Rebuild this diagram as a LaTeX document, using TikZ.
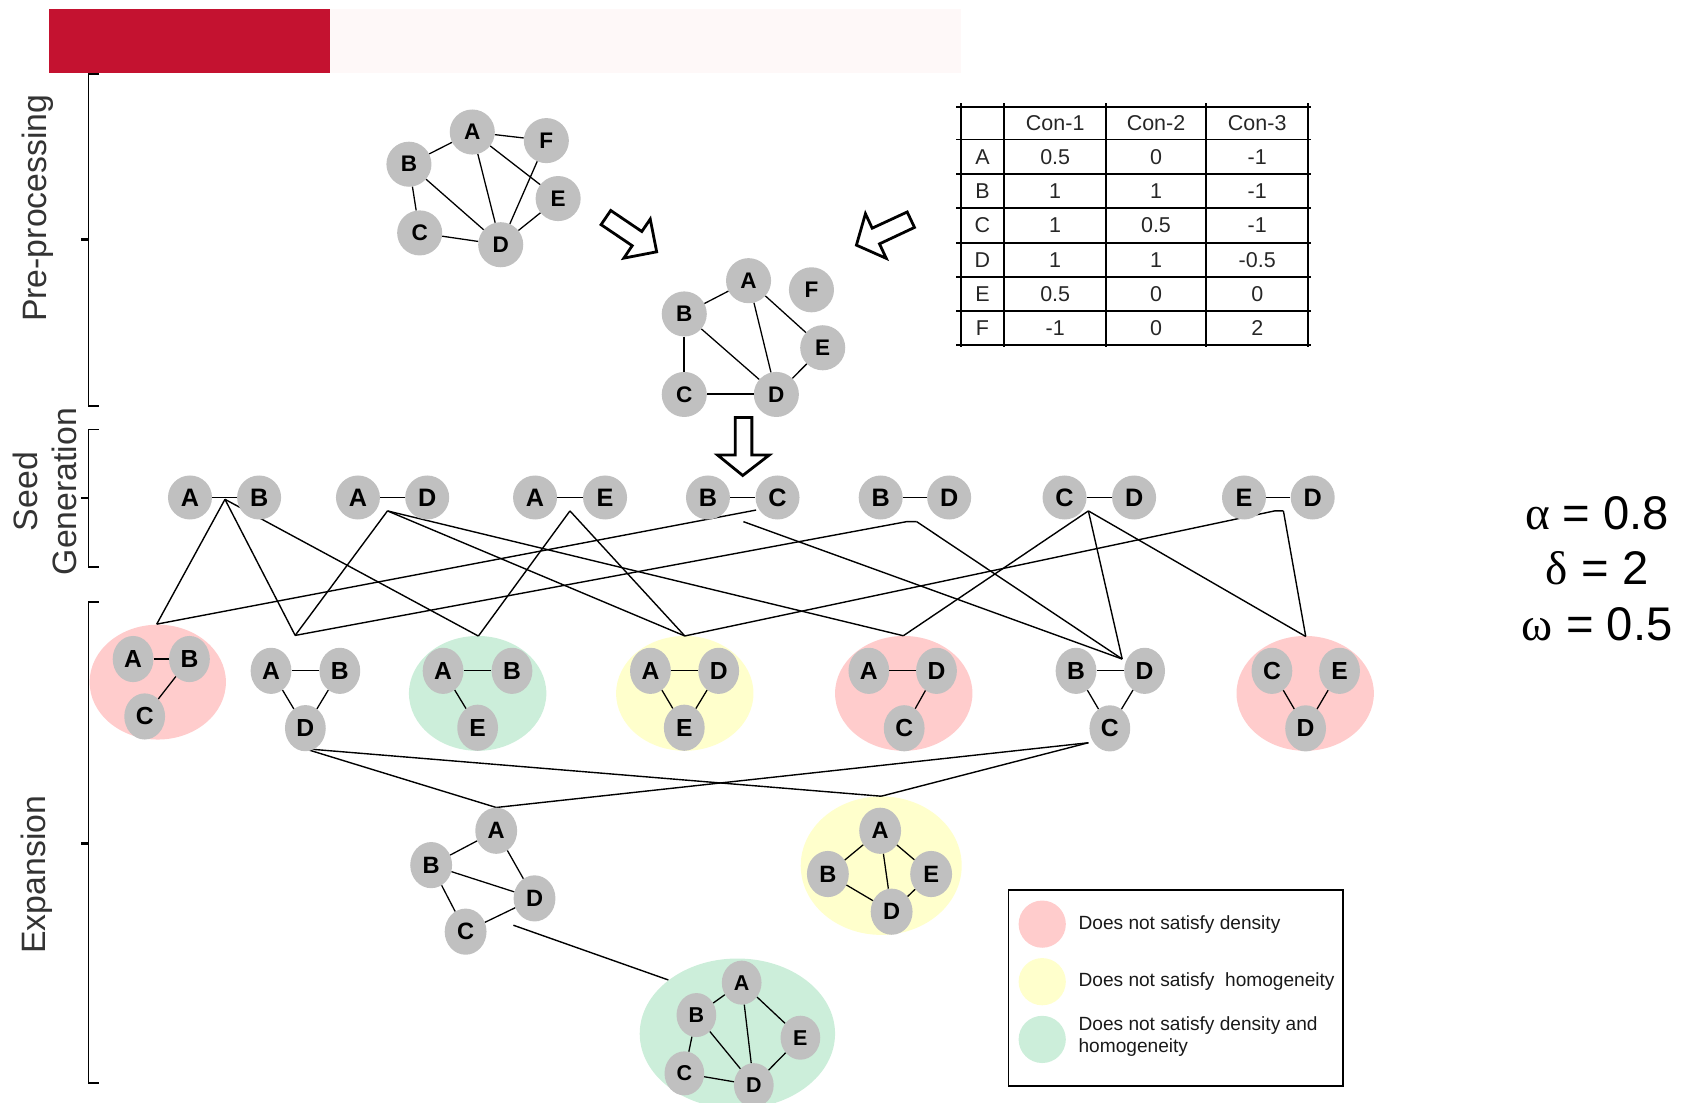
\documentclass[tikz,border=0pt]{standalone}
\usepackage{fontspec}
\setmainfont{Liberation Sans}
\newfontfamily\grkfont{Liberation Serif}
\usetikzlibrary{shapes.geometric}
\pgfdeclarelayer{bg}
\pgfsetlayers{bg,main}
\definecolor{barred}{RGB}{196,18,48}
\definecolor{barpink}{RGB}{254,248,248}
\definecolor{ngray}{RGB}{192,192,192}
\definecolor{cpink}{RGB}{255,204,204}
\definecolor{cyellow}{RGB}{255,255,204}
\definecolor{cgreen}{RGB}{204,238,218}
\begin{document}
\begin{tikzpicture}[x=1pt,y=-1pt,
  gn/.style={ellipse, fill=ngray, inner sep=0pt, minimum width=42pt, minimum height=42pt, font=\fontsize{21}{21}\selectfont\bfseries},
  sn/.style={gn, minimum width=41pt, minimum height=41pt, font=\fontsize{23.5}{23.5}\selectfont\bfseries},
  tn/.style={gn, minimum width=38pt, minimum height=43pt, font=\fontsize{23}{23}\selectfont\bfseries},
  xn/.style={gn, minimum width=39pt, minimum height=43pt, font=\fontsize{22}{22}\selectfont\bfseries},
  zn/.style={gn, minimum width=37pt, minimum height=41pt, font=\fontsize{20}{20}\selectfont\bfseries},
  cl/.style={ellipse, inner sep=0pt, minimum width=128pt, minimum height=107pt},
  edge/.style={line width=1.2pt},
  conn/.style={line width=1.3pt},
  tbl/.style={line width=1.8pt},
  tt/.style={font=\fontsize{20}{20}\selectfont, text=black!85, inner sep=0pt},
  harrow/.style={draw=black, fill=white, line width=2.6pt, line join=miter},
  brk/.style={line width=1.5pt},
  lab/.style={font=\fontsize{31.5}{36}\selectfont, text=black!80, inner sep=0pt},
  par/.style={font=\fontsize{44}{44}\selectfont, inner sep=0pt},
  legt/.style={font=\fontsize{17.8}{20}\selectfont, inner sep=0pt, text=black!90},
]
\useasboundingbox (0,0) rectangle (1568,1027);

% header bars
\fill[barred] (46,8) rectangle (307,68);
\fill[barpink] (307,8) rectangle (895,68);

% brackets
\draw[brk] (92,69) -- (82.5,69) -- (82.5,378) -- (92,378);
\draw[line width=2.6pt] (82.5,223) -- (75,223);
\draw[brk] (92,400) -- (82.5,400) -- (82.5,528) -- (92,528);
\draw[line width=2.6pt] (82.5,464) -- (75,464);
\draw[brk] (92,561) -- (82.5,561) -- (82.5,1009) -- (92,1009);
\draw[line width=2.6pt] (82.5,786) -- (75,786);

% stage labels
\node[lab, rotate=90] (lpre) at (35,194) {Pre-processing};
\node[lab, rotate=90, align=center] (lseed) at (42,458) {Seed\\Generation};
\node[lab, rotate=90] (lexp) at (34,815) {Expansion};

% ---------- pre-processing graph 1
\node[gn] (pA) at (440,123) {A};
\node[gn] (pF) at (509,131) {F};
\node[gn] (pB) at (381,153) {B};
\node[gn] (pE) at (520,185) {E};
\node[gn] (pC) at (391,217) {C};
\node[gn] (pD) at (466.5,228) {D};
\foreach \u/\v in {pA/pB,pA/pF,pA/pD,pA/pE,pB/pC,pB/pD,pC/pD,pF/pD,pE/pD}
  \draw[edge] (\u) -- (\v);

% ---------- pre-processing graph 2
\node[gn] (qA) at (697.4,261.5) {A};
\node[gn] (qF) at (756,270) {F};
\node[gn] (qB) at (637.5,292.5) {B};
\node[gn] (qE) at (766.5,324) {E};
\node[gn] (qC) at (637.5,367.5) {C};
\node[gn] (qD) at (723.3,367.5) {D};
\foreach \u/\v in {qA/qB,qA/qD,qA/qE,qB/qD,qE/qD}
  \draw[edge] (\u) -- (\v);
\draw[line width=1.6pt] (qB) -- (qC);
\draw[line width=1.8pt] (qC) -- (qD);

% hollow arrows
\draw[harrow] (560.0,209.3) -- (589.0,228.9) -- (581.2,240.5) -- (611.8,234.6) -- (605.8,204.1) -- (598.0,215.7) -- (569.0,196.1) -- cycle;
\draw[harrow] (845.2,197.5) -- (812.6,212.6) -- (806.3,199.1) -- (797.9,228.4) -- (825.7,240.7) -- (819.4,227.2) -- (852.0,211.9) -- cycle;
\draw[harrow] (685,389) -- (700.5,389) -- (700.5,424) -- (716.6,424) -- (692,443) -- (668.6,424) -- (685,424) -- cycle;

% ---------- table
\foreach \yy in {99.4,130,162,194,226,258,290,321.4}
  \draw[tbl] (891,\yy) -- (1221,\yy);
\foreach \xx in {895,935.7,1030.5,1123.6,1219}
  \draw[tbl] (\xx,96) -- (\xx,323);
\node[tt] (h1) at (983.1,114.7) {Con-1};
\node[tt] (h2) at (1077,114.7) {Con-2};
\node[tt] (h3) at (1171.3,114.7) {Con-3};
\foreach \r/\a/\b/\c/\yy in {A/0.5/0/-1/146, B/1/1/-1/178, C/1/0.5/-1/210, D/1/1/-0.5/242, E/0.5/0/0/274, F/-1/0/2/305.7}{
  \node[tt] (r\r) at (915.3,\yy) {\r};
  \node[tt] (v\r1) at (983.1,\yy) {\a};
  \node[tt] (v\r2) at (1077,\yy) {\b};
  \node[tt] (v\r3) at (1171.3,\yy) {\c};
}

% ---------- seeds
\node[sn] (s1a) at (177,463.5) {A};   \node[sn] (s1b) at (241.4,463.5) {B};
\node[sn] (s2a) at (333.5,463.5) {A}; \node[sn] (s2b) at (398,463.5) {D};
\node[sn] (s3a) at (498.5,463.5) {A}; \node[sn] (s3b) at (563.7,463.5) {E};
\node[sn] (s4a) at (659.6,463.5) {B}; \node[sn] (s4b) at (724.4,463.5) {C};
\node[sn] (s5a) at (820.5,463.5) {B}; \node[sn] (s5b) at (884.3,463.5) {D};
\node[sn] (s6a) at (991.8,463.5) {C}; \node[sn] (s6b) at (1056.6,463.5) {D};
\node[sn] (s7a) at (1159,463.5) {E};  \node[sn] (s7b) at (1223,463.5) {D};
\foreach \i in {1,...,7} \draw[edge] (s\i a) -- (s\i b);

% ---------- cluster backgrounds
\begin{pgfonlayer}{bg}
\node[cl, fill=cpink, minimum width=127pt] (cl1) at (147,635.5) {};
\node[cl, fill=cgreen] (cl3) at (445,646) {};
\node[cl, fill=cyellow] (cl4) at (638,646) {};
\node[cl, fill=cpink] (cl5) at (842,646) {};
\node[cl, fill=cpink] (cl7) at (1216,646) {};
\node[ellipse, inner sep=0pt, fill=cyellow, minimum width=150pt, minimum height=129pt] (x2e) at (821,806.5) {};
\node[ellipse, inner sep=0pt, fill=cgreen, minimum width=182pt, minimum height=140pt] (x3e) at (687,963) {};
\end{pgfonlayer}

% ---------- triplet clusters
\node[tn] (c1a) at (124,614) {A}; \node[tn] (c1b) at (176.5,614) {B}; \node[tn] (c1c) at (134.8,667.5) {C};
\draw[edge] (c1a) -- (c1b); \draw[edge] (c1b) -- (c1c);
\node[tn] (c2a) at (252.5,625) {A}; \node[tn] (c2b) at (316.6,625) {B}; \node[tn] (c2d) at (284.5,678.4) {D};
\draw[edge] (c2a) -- (c2b); \draw[edge] (c2a) -- (c2d); \draw[edge] (c2b) -- (c2d);
\node[tn] (c3a) at (412.8,625) {A}; \node[tn] (c3b) at (477,625) {B}; \node[tn] (c3e) at (445,678) {E};
\draw[edge] (c3a) -- (c3b); \draw[edge] (c3a) -- (c3e);
\node[tn] (c4a) at (606,625) {A}; \node[tn] (c4d) at (669.6,625) {D}; \node[tn] (c4e) at (637.5,678) {E};
\draw[edge] (c4a) -- (c4d); \draw[edge] (c4a) -- (c4e); \draw[edge] (c4d) -- (c4e);
\node[tn] (c5a) at (809.5,625) {A}; \node[tn] (c5d) at (872.5,625) {D}; \node[tn] (c5c) at (842.4,678.5) {C};
\draw[edge] (c5a) -- (c5d); \draw[edge] (c5d) -- (c5c);
\node[tn] (c6b) at (1002.5,625) {B}; \node[tn] (c6d) at (1066.4,625) {D}; \node[tn] (c6c) at (1034,678.6) {C};
\draw[edge] (c6b) -- (c6d); \draw[edge] (c6b) -- (c6c); \draw[edge] (c6d) -- (c6c);
\node[tn] (c7c) at (1185,625) {C}; \node[tn] (c7e) at (1248,625) {E}; \node[tn] (c7d) at (1216.4,678.6) {D};
\draw[edge] (c7c) -- (c7d); \draw[edge] (c7e) -- (c7d);

% ---------- connector anchor points
\coordinate (sAB) at (209.6,465.2);
\coordinate (sAD) at (361,476);
\coordinate (sAE) at (531,476);
\coordinate (sBC1) at (704.4,475.2);
\coordinate (sBC2) at (692.6,486);
\coordinate (sBDl) at (844.7,486);
\coordinate (sBDr) at (854,486);
\coordinate (sCD) at (1014,476);
\coordinate (sEDl) at (1187.5,476);
\coordinate (sEDr) at (1195.7,476);
\coordinate (c1t) at (146,581.5);
\coordinate (c2t) at (275,592);
\coordinate (c3t) at (445.7,592.6);
\coordinate (c4t) at (638,592.5);
\coordinate (c5t) at (841.6,592.3);
\coordinate (c6t) at (1045.5,614);
\coordinate (c7t) at (1216.5,593);

\begin{pgfonlayer}{bg}
\draw[conn] (c1t) -- (sAB); \draw[conn] (c2t) -- (sAB); \draw[conn] (c3t) -- (sAB);
\draw[conn] (c2t) -- (sAD); \draw[conn] (c4t) -- (sAD); \draw[conn] (c5t) -- (sAD);
\draw[conn] (c3t) -- (sAE); \draw[conn] (c4t) -- (sAE);
\draw[conn] (c1t) -- (sBC1); \draw[conn] (c6t) -- (sBC2);
\draw[conn] (c2t) -- (sBDl) -- (sBDr); \draw[conn] (sBDr) -- (c6t);
\draw[conn] (c5t) -- (sCD); \draw[conn] (c6t) -- (sCD); \draw[conn] (c7t) -- (sCD);
\draw[conn] (c4t) -- (sEDl) -- (sEDr); \draw[conn] (sEDr) -- (c7t);
\end{pgfonlayer}

% ---------- expansion graphs
\node[xn] (x1a) at (462.3,774) {A};
\node[xn] (x1b) at (401.7,806) {B};
\node[xn] (x1d) at (498,837) {D};
\node[xn] (x1c) at (433.8,868) {C};
\foreach \u/\v in {x1a/x1b,x1a/x1d,x1b/x1d,x1b/x1c,x1c/x1d} \draw[edge] (\u) -- (\v);

\node[xn] (x2a) at (820,774) {A};
\node[xn] (x2b) at (771.3,814.3) {B};
\node[xn] (x2e2) at (867.5,814.3) {E};
\node[xn] (x2d) at (830.7,849.4) {D};
\foreach \u/\v in {x2a/x2b,x2a/x2d,x2a/x2e2,x2b/x2d,x2e2/x2d} \draw[edge] (\u) -- (\v);

\node[zn] (x3a) at (691,915.5) {A};
\node[zn] (x3b) at (648.8,945.7) {B};
\node[zn] (x3e2) at (745.7,966.8) {E};
\node[zn] (x3c) at (637.6,1000) {C};
\node[zn] (x3d) at (702.3,1011) {D};
\foreach \u/\v in {x3a/x3b,x3a/x3d,x3a/x3e2,x3b/x3c,x3b/x3d,x3c/x3d,x3e2/x3d} \draw[edge] (\u) -- (\v);

\coordinate (e2D) at (283.7,697.5);
\coordinate (e6C) at (1014,692);
\coordinate (x1out) at (478.3,862);
\coordinate (x3in) at (622.7,913);
\begin{pgfonlayer}{bg}
\draw[conn] (e2D) -- (x1a.north); \draw[conn] (e2D) -- (x2e.north);
\draw[conn] (e6C) -- (x1a.north); \draw[conn] (e6C) -- (x2e.north);
\draw[conn] (x1out) -- (x3in);
\end{pgfonlayer}

% ---------- legend
\draw[line width=1.5pt] (939.5,829) rectangle (1251,1012);
\node[circle, fill=cpink, minimum size=44pt, inner sep=0pt] (lg1) at (971,861) {};
\node[circle, fill=cyellow, minimum size=44pt, inner sep=0pt] (lg2) at (971,914.6) {};
\node[circle, fill=cgreen, minimum size=44pt, inner sep=0pt] (lg3) at (971,968.4) {};
\node[legt, anchor=base west] (lt1) at (1004.7,865.6) {Does not satisfy density};
\node[legt, anchor=base west] (lt2) at (1004.7,918.7) {Does not satisfy\ \ homogeneity};
\node[legt, anchor=base west] (lt3) at (1004.7,959.7) {Does not satisfy density and};
\node[legt, anchor=base west] (lt4) at (1004.7,980.8) {homogeneity};

% ---------- parameters
\node[par] (palpha) at (1488,478) {{\grkfont α} = 0.8};
\node[par] (pdelta) at (1488,529) {{\grkfont δ} = 2};
\node[par] (pomega) at (1488,582) {{\grkfont ω} = 0.5};
\end{tikzpicture}
\end{document}
